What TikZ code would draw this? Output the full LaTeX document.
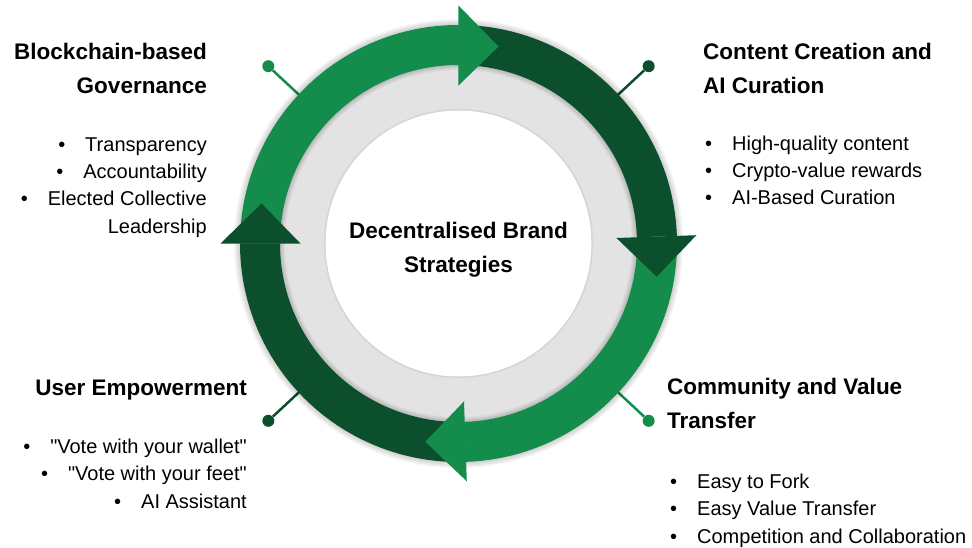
\documentclass[tikz,border=0pt]{standalone}
\usepackage{fontspec}
\setmainfont{Liberation Sans}[Ligatures=TeXOff]
\usepackage{tikz}
\usetikzlibrary{calc}
\usepackage{xcolor}
\definecolor{ringlight}{RGB}{20,140,75}
\definecolor{ringdark}{RGB}{12,79,45}
\definecolor{ringgray}{RGB}{227,227,227}

\newcommand{\itembullet}{\makebox[27pt][l]{\textbullet}}

\begin{document}
\begin{tikzpicture}[x=1pt,y=1pt,
    heading/.style={font=\fontsize{22.5}{34}\selectfont\bfseries,inner sep=0pt},
    items/.style={font=\fontsize{20}{27.2}\selectfont,inner sep=0pt},
    pindot/.style={circle,inner sep=0pt,minimum size=12pt}]
    \useasboundingbox (-458.5,-303.5) rectangle (513.5,243.5);

    % Pins
    \foreach \a/\col/\n in {137/ringlight/tl,43/ringdark/tr,-43/ringlight/br,-137/ringdark/bl}{
        \coordinate (pin\n) at (\a:215);
        \node[pindot,fill=\col] (dot\n) at (\a:260) {};
        \draw[\col,line width=2.5pt] (pin\n) -- (dot\n);
    }

    % Soft shadow under the ring
    \foreach \r in {1,...,6}
        \fill[black,opacity=0.03] (0,0) circle (218.5+\r);

    % Grey disc and white centre
    \fill[ringgray] (0,0) circle (180);
    \foreach \r in {1,...,5}
        \draw[black,opacity=0.035,line width=2*\r pt] (0,0) circle (178.5);
    \foreach \r in {1,...,4}
        \draw[black,opacity=0.02,line width=\r pt] (0,0) circle (133);
    \fill[white] (0,0) circle (133);

    % Arrow bodies
    \foreach \from/\to/\col in {180/90/ringlight,90/2/ringdark,2/-88/ringlight,-88/-180/ringdark}
        \fill[\col] (\from:218.5) arc[start angle=\from,end angle=\to,radius=218.5]
            -- (\to:178.5) arc[start angle=\to,end angle=\from,radius=178.5] -- cycle;

    % Arrow heads
    \foreach \to/\col in {90/ringlight,2/ringdark,-88/ringlight,-180/ringdark}
        \fill[\col] (\to:158) -- (\to:238) -- (\to-11.5:201) -- cycle;

    % Centre title (nodes sit on the baseline of their last line)
    \node[heading,align=center,anchor=base] (title) at (0,-28.5) {Decentralised Brand\\Strategies};

    % Top left
    \node[heading,align=right,anchor=base east] (govhead) at (-251.5,150.5) {Blockchain-based\\Governance};
    \node[items,align=right,anchor=base east] (govlist) at (-251.5,10.5)
        {\itembullet Transparency\\\itembullet Accountability\\\itembullet Elected Collective\\Leadership};

    % Top right
    \node[heading,align=left,anchor=base west] (aihead) at (244.5,150.5) {Content Creation and\\AI Curation};
    \node[items,align=left,anchor=base west] (ailist) at (246.5,39)
        {\itembullet High-quality content\\\itembullet Crypto-value rewards\\\itembullet AI-Based Curation};

    % Bottom left
    \node[heading,align=right,anchor=base east] (userhead) at (-211.5,-151.5) {User Empowerment};
    \node[items,align=right,anchor=base east] (userlist) at (-211.5,-264.5)
        {\itembullet "Vote with your wallet"\\
         \itembullet "Vote with your feet"\\
         \itembullet AI Assistant};

    % Bottom right
    \node[heading,align=left,anchor=base west] (valuehead) at (208.5,-184.5) {Community and Value\\Transfer};
    \node[items,align=left,anchor=base west] (valuelist) at (211.5,-299.5)
        {\itembullet Easy to Fork\\\itembullet Easy Value Transfer\\\itembullet Competition and Collaboration};
\end{tikzpicture}
\end{document}
